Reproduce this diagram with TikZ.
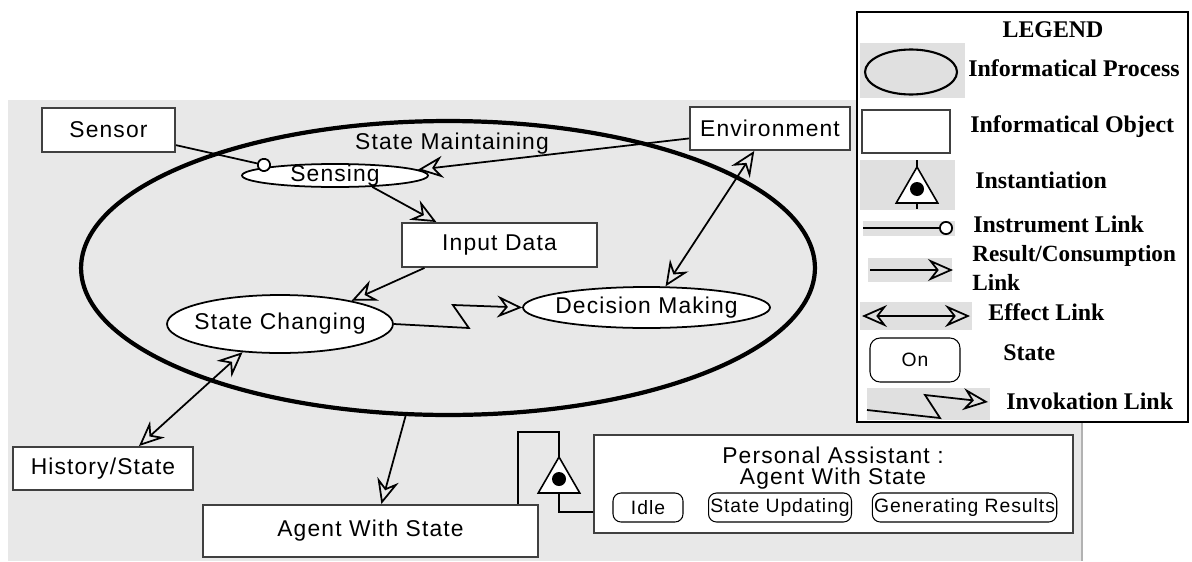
\documentclass[tikz,border=0pt]{standalone}
\usepackage{fontspec}
\newfontfamily\diagfont[LetterSpace=5]{Liberation Sans}
\newfontfamily\legfont{Liberation Serif}
\usetikzlibrary{arrows.meta,shapes.geometric,calc}

\definecolor{bggray}{gray}{0.91}
\definecolor{patchgray}{gray}{0.88}
\definecolor{boxline}{gray}{0.25}

\tikzset{
  >={Stealth[open, length=0.5cm, width=0.44cm, inset=0.17cm]},
  diagtext/.style={inner sep=0pt, font=\diagfont\fontsize{13}{15}\selectfont},
  obj/.style={draw=boxline, line width=1.1pt, fill=white, inner sep=0pt, diagtext},
  proc/.style={ellipse, draw, fill=white, line width=1pt, inner sep=0pt, label={[diagtext]center:#1}},
  statebox/.style={draw, rounded corners=0.16cm, fill=white, line width=0.6pt, minimum height=0.58cm, inner sep=1pt, font=\diagfont\fontsize{11}{13}\selectfont},
  instbox/.style={regular polygon, regular polygon sides=3, draw, fill=white, line width=0.9pt, inner sep=0pt, outer sep=0pt},
  dot/.style={circle, fill=black, inner sep=0pt, minimum size=0.28cm},
  result/.style={line width=1pt, ->},
  effect/.style={line width=1pt, <->},
  instr/.style={line width=1pt, -{Circle[length=0.28cm, fill=white]}},
  legtext/.style={anchor=west, inner sep=0pt, font=\legfont\bfseries\fontsize{13.6}{16}\selectfont},
}

\begin{document}
\begin{tikzpicture}[x=0.02cm, y=-0.02cm]
\useasboundingbox (0,0) rectangle (1192,561);
\fill[bggray] (8,100) rectangle (1082,561);
\draw[gray!60, line width=0.8pt] (1082,100) -- (1082,561);

\node[ellipse, draw, line width=2.4pt, minimum width=14.68cm, minimum height=5.88cm, inner sep=0pt] (v0) at (448,268) {};
\node[diagtext] (v4) at (452,144) {State Maintaining};
\node[obj, minimum width=2.66cm, minimum height=0.88cm] (v1) at (108.5,130) {Sensor};
\node[obj, minimum width=3.2cm, minimum height=0.86cm] (v2) at (770,128.5) {Environment};
\node[obj, minimum width=3.9cm, minimum height=0.88cm] (v3) at (499.5,245) {Input Data};
\node[proc=Sensing, minimum width=3.72cm, minimum height=0.46cm] (v5) at (335,175.5) {};
\node[proc=State Changing, minimum width=4.52cm, minimum height=1.16cm] (v6) at (280,324) {};
\node[obj, minimum width=3.6cm, minimum height=0.86cm] (v7) at (103,468.5) {History/State};
\node[obj, minimum width=6.7cm, minimum height=1.04cm] (v8) at (370.5,531) {Agent With State};
\node[proc=Decision Making, minimum width=4.94cm, minimum height=0.82cm] (v9) at (646.5,307.5) {};
\node[obj, minimum width=9.58cm, minimum height=1.96cm] (v10) at (833.5,484) {};
\node[instbox, minimum size=0.96cm] (v11) at (559,481) {};
\node[dot] (v12) at (559,479) {};
\node[diagtext, align=center, font=\diagfont\fontsize{13}{12}\selectfont] (v13) at (833,468) {Personal Assistant :\\Agent With State};
\node[statebox, minimum width=1.4cm] (v14) at (648,507.5) {Idle};
\node[statebox, minimum width=2.68cm] (v15) at (780,507.5) {State Updating};
\node[statebox, minimum width=3.5cm] (v16) at (964.5,507.5) {Generating Results};

\draw[instr] (v1) -- (v5.172);
\draw[result] (v2.187) -- (v5.4);
\draw[result] (v5.343) -- (v3.160);
\draw[result] (v3.197) -- (v6.18);
\draw[effect] (v9.48) -- (v2.235);
\draw[effect] (v6.217) -- (v7.32);
\draw[result] (v0.254) -- (v8.68);
\draw[result] (v6.east) -- ++(75,4) -- ++(-16,-23) -- (v9.west);
\draw[line width=0.9pt] (v8.north east) ++(-21,0) -- ++(0,-72) -| (v11.north);
\draw[line width=0.9pt] (v11.south) -- ++(0,19) -- ($(v10.west)+(0,28)$);

\draw[fill=white, line width=0.8pt] (857,12) rectangle (1188,422);
\fill[patchgray] (860,43) rectangle (965,98);
\fill[patchgray] (860,160) rectangle (955,210);
\fill[patchgray] (863,221) rectangle (955,236);
\fill[patchgray] (868,258) rectangle (952,282);
\fill[patchgray] (860,302) rectangle (972,330);
\fill[patchgray] (867,388) rectangle (990,420);
\node[legtext, anchor=center] (v20) at (1053,30) {LEGEND};
\node[ellipse, draw, line width=1.2pt, minimum width=1.84cm, minimum height=0.9cm, inner sep=0pt] (v21) at (911,72) {};
\node[draw=boxline, line width=1.2pt, fill=white, minimum width=1.76cm, minimum height=0.86cm] (v22) at (906,131.5) {};
\node[instbox, minimum size=0.96cm] (v23) at (917,191) {};
\node[dot] (v24) at (917,189) {};
\draw[line width=0.9pt] (v23.north) -- ++(0,-7);
\draw[line width=0.9pt] (v23.south) -- ++(0,6);
\node[statebox, minimum width=1.8cm, minimum height=0.88cm, rounded corners=0.2cm] (v25) at (915,360) {On};
\coordinate (v40) at (863,228);
\coordinate (v41) at (953,228);
\coordinate (v42) at (870,270);
\coordinate (v43) at (953,270);
\coordinate (v44) at (862,316);
\coordinate (v45) at (970,316);
\coordinate (v46) at (867,410);
\coordinate (v47) at (988,402);
\draw[instr] (v40) -- (v41);
\draw[result] (v42) -- (v43);
\draw[effect] (v44) -- (v45);
\draw[result] (v46) -- ++(73,8) -- ++(-15,-23) -- (v47);
\node[legtext] (v26) at (968,68) {Informatical Process};
\node[legtext] (v27) at (970,127) {Informatical Object};
\node[legtext] (v28) at (975,180) {Instantiation};
\node[legtext] (v29) at (973,224) {Instrument Link};
\node[legtext, align=left, font=\legfont\bfseries\fontsize{13.2}{16}\selectfont] (v30) at (972,268) {Result/Consumption\\Link};
\node[legtext] (v31) at (988,312) {Effect Link};
\node[legtext] (v32) at (1003,353) {State};
\node[legtext] (v33) at (1006,401) {Invokation Link};
\end{tikzpicture}
\end{document}
